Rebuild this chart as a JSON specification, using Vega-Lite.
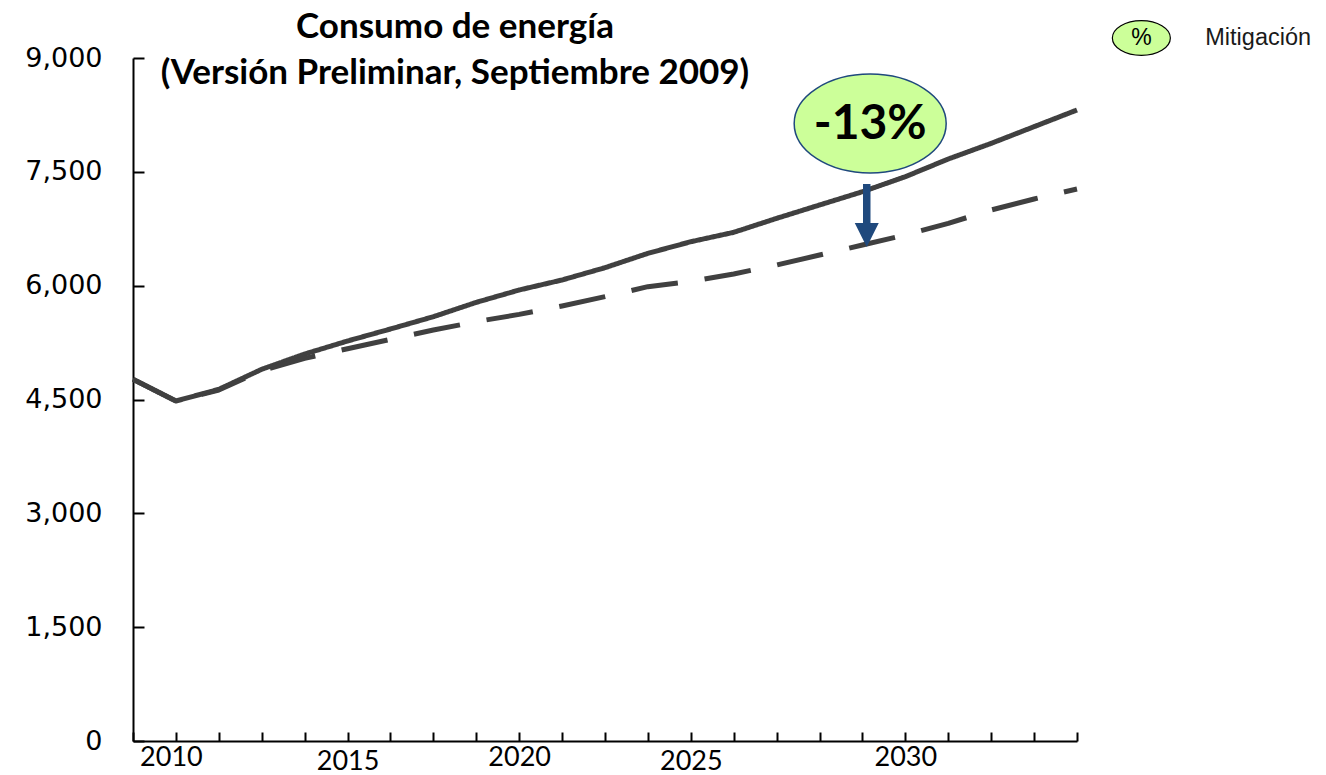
{
  "$schema": "https://vega.github.io/schema/vega-lite/v6.json",
  "width": 944,
  "height": 683,
  "autosize": {"type": "none"},
  "padding": {"left": 133, "top": 58, "right": 249, "bottom": 34},
  "background": "white",
  "config": {"view": {"stroke": null}},
  "title": {
    "text": ["Consumo de energía", "(Versión Preliminar, Septiembre 2009)"],
    "font": "Lato",
    "fontSize": 35,
    "fontWeight": "bold",
    "color": "black",
    "anchor": "middle",
    "dx": -150,
    "offset": -73,
    "lineHeight": 46
  },
  "datasets": {
    "consumo": [
      {"year": 2009, "escenario": "Línea base", "valor": 4766},
      {"year": 2010, "escenario": "Línea base", "valor": 4480},
      {"year": 2011, "escenario": "Línea base", "valor": 4634},
      {"year": 2012, "escenario": "Línea base", "valor": 4898},
      {"year": 2013, "escenario": "Línea base", "valor": 5099},
      {"year": 2014, "escenario": "Línea base", "valor": 5271},
      {"year": 2015, "escenario": "Línea base", "valor": 5429},
      {"year": 2016, "escenario": "Línea base", "valor": 5591},
      {"year": 2017, "escenario": "Línea base", "valor": 5780},
      {"year": 2018, "escenario": "Línea base", "valor": 5943},
      {"year": 2019, "escenario": "Línea base", "valor": 6075},
      {"year": 2020, "escenario": "Línea base", "valor": 6237},
      {"year": 2021, "escenario": "Línea base", "valor": 6426},
      {"year": 2022, "escenario": "Línea base", "valor": 6579},
      {"year": 2023, "escenario": "Línea base", "valor": 6703},
      {"year": 2024, "escenario": "Línea base", "valor": 6887},
      {"year": 2025, "escenario": "Línea base", "valor": 7063},
      {"year": 2026, "escenario": "Línea base", "valor": 7238},
      {"year": 2027, "escenario": "Línea base", "valor": 7436},
      {"year": 2028, "escenario": "Línea base", "valor": 7669},
      {"year": 2029, "escenario": "Línea base", "valor": 7875},
      {"year": 2030, "escenario": "Línea base", "valor": 8095},
      {"year": 2031, "escenario": "Línea base", "valor": 8315},
      {"year": 2009, "escenario": "Mitigación", "valor": 4766},
      {"year": 2010, "escenario": "Mitigación", "valor": 4480},
      {"year": 2011, "escenario": "Mitigación", "valor": 4625},
      {"year": 2012, "escenario": "Mitigación", "valor": 4880},
      {"year": 2013, "escenario": "Mitigación", "valor": 5042},
      {"year": 2014, "escenario": "Mitigación", "valor": 5169},
      {"year": 2015, "escenario": "Mitigación", "valor": 5293},
      {"year": 2016, "escenario": "Mitigación", "valor": 5415},
      {"year": 2017, "escenario": "Mitigación", "valor": 5526},
      {"year": 2018, "escenario": "Mitigación", "valor": 5622},
      {"year": 2019, "escenario": "Mitigación", "valor": 5732},
      {"year": 2020, "escenario": "Mitigación", "valor": 5855},
      {"year": 2021, "escenario": "Mitigación", "valor": 5987},
      {"year": 2022, "escenario": "Mitigación", "valor": 6057},
      {"year": 2023, "escenario": "Mitigación", "valor": 6154},
      {"year": 2024, "escenario": "Mitigación", "valor": 6272},
      {"year": 2025, "escenario": "Mitigación", "valor": 6404},
      {"year": 2026, "escenario": "Mitigación", "valor": 6536},
      {"year": 2027, "escenario": "Mitigación", "valor": 6668},
      {"year": 2028, "escenario": "Mitigación", "valor": 6821},
      {"year": 2029, "escenario": "Mitigación", "valor": 6997},
      {"year": 2030, "escenario": "Mitigación", "valor": 7142},
      {"year": 2031, "escenario": "Mitigación", "valor": 7274}
    ],
    "flecha": [
      {"year": 2026.1, "desde": 7340, "hasta": 6822, "punta": 6668}
    ],
    "nota": [
      {"year": 2026.18, "valor": 8137, "texto": "-13%"}
    ],
    "leyenda": [
      {"year": 2032.5, "texto_year": 2033.99, "valor": 9263, "simbolo": "%", "texto": "Mitigación"}
    ]
  },
  "layer": [
    {
      "data": {"name": "consumo"},
      "mark": {"type": "line", "strokeWidth": 5, "color": "#404040", "strokeCap": "butt", "strokeJoin": "round"},
      "encoding": {
        "x": {
          "field": "year",
          "type": "quantitative",
          "scale": {"domain": [2009, 2031], "nice": false, "zero": false},
          "axis": {
            "title": null,
            "grid": false,
            "values": [2009, 2010, 2011, 2012, 2013, 2014, 2015, 2016, 2017, 2018, 2019, 2020, 2021, 2022, 2023, 2024, 2025, 2026, 2027, 2028, 2029, 2030, 2031],
            "labelExpr": "datum.value == 2010 ? '2010' : datum.value == 2014 ? '2015' : datum.value == 2018 ? '2020' : datum.value == 2022 ? '2025' : datum.value == 2027 ? '2030' : ''",
            "labelFont": "Lato",
            "labelFontSize": 27,
            "labelColor": "black",
            "labelBaseline": "middle",
            "labelPadding": {"condition": {"test": "datum.value == 2014 || datum.value == 2022", "value": 29}, "value": 25},
            "labelOffset": {"condition": {"test": "datum.value == 2010", "value": -5}, "value": 0},
            "labelFlush": false,
            "labelOverlap": false,
            "tickSize": -9,
            "tickWidth": 2,
            "tickColor": "black",
            "domainColor": "black",
            "domainWidth": 2
          }
        },
        "y": {
          "field": "valor",
          "type": "quantitative",
          "scale": {"domain": [0, 9000], "nice": false},
          "axis": {
            "title": null,
            "grid": false,
            "values": [0, 1500, 3000, 4500, 6000, 7500, 9000],
            "format": ",.0f",
            "labelFont": "DejaVu Sans",
            "labelFontSize": 27,
            "labelColor": "black",
            "labelPadding": 42,
            "tickSize": -11,
            "tickWidth": 2,
            "tickColor": "black",
            "domainColor": "black",
            "domainWidth": 2
          }
        },
        "strokeDash": {
          "field": "escenario",
          "type": "nominal",
          "scale": {"domain": ["Línea base", "Mitigación"], "range": [[1, 0], [47, 27]]},
          "legend": null
        }
      }
    },
    {
      "data": {"name": "flecha"},
      "mark": {"type": "rule", "strokeWidth": 7.5, "color": "#1F497D", "strokeCap": "butt"},
      "encoding": {
        "x": {"field": "year", "type": "quantitative"},
        "y": {"field": "desde", "type": "quantitative"},
        "y2": {"field": "hasta"}
      }
    },
    {
      "data": {"name": "flecha"},
      "mark": {"type": "point", "shape": "M-1,-1L1,-1L0,1Z", "size": 576, "filled": true, "color": "#1F497D", "opacity": 1, "strokeWidth": 0},
      "encoding": {
        "x": {"field": "year", "type": "quantitative"},
        "y": {"field": "punta", "type": "quantitative"}
      }
    },
    {
      "data": {"name": "nota"},
      "mark": {"type": "point", "shape": "M-1,0A1,0.651,0,1,0,1,0A1,0.651,0,1,0,-1,0Z", "size": 23104, "filled": true, "fill": "#CCFF99", "stroke": "#1F497D", "strokeWidth": 1.5, "opacity": 1},
      "encoding": {
        "x": {"field": "year", "type": "quantitative"},
        "y": {"field": "valor", "type": "quantitative"}
      }
    },
    {
      "data": {"name": "nota"},
      "mark": {"type": "text", "font": "Lato", "fontSize": 48, "fontWeight": "bold", "color": "black", "align": "center", "baseline": "middle", "dy": 2},
      "encoding": {
        "x": {"field": "year", "type": "quantitative"},
        "y": {"field": "valor", "type": "quantitative"},
        "text": {"field": "texto"}
      }
    },
    {
      "data": {"name": "leyenda"},
      "mark": {"type": "point", "shape": "M-1,0A1,0.6,0,1,0,1,0A1,0.6,0,1,0,-1,0Z", "size": 3364, "filled": true, "fill": "#CCFF99", "stroke": "black", "strokeWidth": 1.2, "opacity": 1},
      "encoding": {
        "x": {"field": "year", "type": "quantitative"},
        "y": {"field": "valor", "type": "quantitative"}
      }
    },
    {
      "data": {"name": "leyenda"},
      "mark": {"type": "text", "font": "Liberation Sans", "fontSize": 23, "color": "black", "align": "center", "baseline": "middle"},
      "encoding": {
        "x": {"field": "year", "type": "quantitative"},
        "y": {"field": "valor", "type": "quantitative"},
        "text": {"field": "simbolo"}
      }
    },
    {
      "data": {"name": "leyenda"},
      "mark": {"type": "text", "font": "Liberation Sans", "fontSize": 23.5, "color": "#1a1a1a", "align": "left", "baseline": "middle"},
      "encoding": {
        "x": {"field": "texto_year", "type": "quantitative"},
        "y": {"field": "valor", "type": "quantitative"},
        "text": {"field": "texto"}
      }
    }
  ]
}
